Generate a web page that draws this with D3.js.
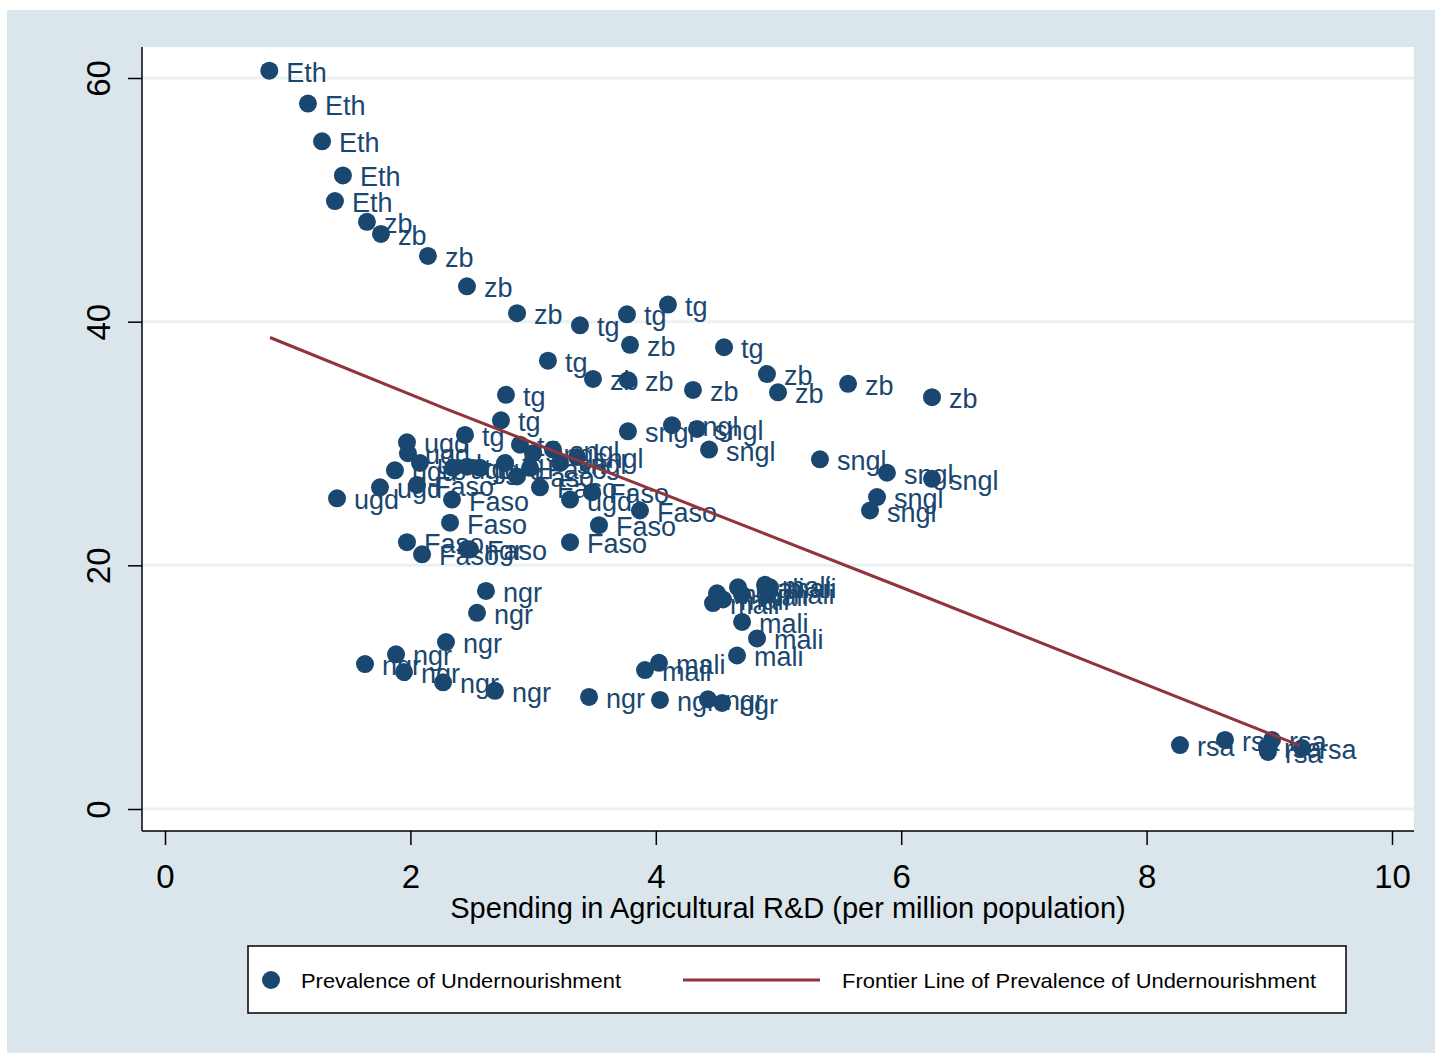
<!DOCTYPE html>
<html>
<head>
<meta charset="utf-8">
<script src="https://cdn.jsdelivr.net/npm/d3@7"></script>
<style>
  html, body { margin: 0; padding: 0; background: #ffffff; }
  svg { display: block; font-family: "Liberation Sans", Arial, sans-serif; }
</style>
</head>
<body>
<svg id="chart" width="1435" height="1053"></svg>
<script>
// Spending in agricultural R&D (per million population) vs. prevalence of undernourishment (%)
const Eth = [[0.85, 60.6], [1.165, 57.9], [1.28, 54.8], [1.45, 52.0], [1.385, 49.9]];
const zb = [[1.646, 48.2], [1.76, 47.2], [2.143, 45.4], [2.461, 42.9], [2.869, 40.7],
  [3.79, 38.1], [3.488, 35.3], [3.773, 35.2], [4.303, 34.4], [4.906, 35.7],
  [4.996, 34.2], [5.567, 34.9], [6.251, 33.8]];
const tg = [[3.382, 39.7], [3.765, 40.6], [4.099, 41.4], [4.556, 37.9], [3.121, 36.8],
  [2.779, 34.0], [2.738, 31.9], [2.445, 30.7], [2.461, 28.1], [2.567, 28.0],
  [2.771, 28.4], [2.893, 29.9]];
const sngl = [[3.773, 31.0], [4.132, 31.5], [4.336, 31.2], [4.434, 29.5], [5.338, 28.7],
  [5.884, 27.6], [6.251, 27.1], [5.803, 25.6], [5.746, 24.5], [3.162, 29.5],
  [3.358, 28.9], [2.999, 29.2], [3.219, 28.4]];
const Faso = [[3.48, 26.0], [3.871, 24.5], [3.537, 23.3], [3.301, 21.9], [2.339, 25.4],
  [2.323, 23.5], [1.972, 21.9], [2.095, 20.9], [2.486, 21.3], [2.054, 26.6],
  [2.869, 27.3], [2.975, 28.0], [3.056, 26.4]];
const ugd = [[1.402, 25.5], [1.752, 26.4], [1.972, 30.1], [1.98, 29.2], [1.874, 27.8],
  [2.078, 28.4], [3.301, 25.4], [2.347, 28.0]];
const ngr = [[2.616, 17.9], [2.543, 16.1], [2.29, 13.7], [1.883, 12.7], [1.63, 11.9],
  [1.948, 11.25], [2.266, 10.4], [2.689, 9.7], [3.456, 9.2], [4.034, 8.95],
  [4.425, 9.0], [4.54, 8.7], [2.461, 21.35]];
const mali = [[4.499, 17.7], [4.466, 16.9], [4.548, 17.2], [4.67, 18.2], [4.703, 17.6],
  [4.89, 18.4], [4.931, 18.2], [4.914, 17.7], [4.703, 15.35], [4.825, 14.0],
  [4.662, 12.6], [4.026, 12.0], [3.912, 11.4]];
const rsa = [[8.272, 5.25], [8.639, 5.67], [8.981, 5.09], [9.022, 5.67], [8.989, 4.68], [9.267, 5.0]];

const groups = [["Eth", Eth], ["zb", zb], ["tg", tg], ["sngl", sngl], ["Faso", Faso],
  ["ugd", ugd], ["ngr", ngr], ["mali", mali], ["rsa", rsa]];

// Frontier line of prevalence of undernourishment
const frontier = [[0.856, 38.7], [2.3, 32.8], [3.95, 26.3], [6.0, 18.2], [9.25, 5.2]];

const xTicks = [0, 2, 4, 6, 8, 10];
const yTicks = [0, 20, 40, 60];
const xTitle = "Spending in Agricultural R&D (per million population)";
const legendLabels = ["Prevalence of Undernourishment", "Frontier Line of Prevalence of Undernourishment"];

const navy = "#1a476f";
const maroon = "#90353b";

const svg = d3.select("#chart");
const plot = { left: 142, right: 1414, top: 47, bottom: 831 };

const x = d3.scaleLinear().domain([0, 10]).range([165, 1392]);
const y = d3.scaleLinear().domain([0, 60]).range([809, 78]);

// outer graph region
svg.append("rect").attr("x", 7).attr("y", 10).attr("width", 1428).attr("height", 1043)
  .attr("fill", "#dae6ec");
// plot region
svg.append("rect").attr("x", plot.left).attr("y", plot.top)
  .attr("width", plot.right - plot.left).attr("height", plot.bottom - plot.top)
  .attr("fill", "#ffffff");

// horizontal gridlines
svg.append("g").selectAll("line").data(yTicks).join("line")
  .attr("x1", plot.left).attr("x2", plot.right)
  .attr("y1", d => y(d)).attr("y2", d => y(d))
  .attr("stroke", "#eaf2f3").attr("stroke-width", 3);

// x axis
const gx = svg.append("g").attr("transform", `translate(0,${plot.bottom})`)
  .call(d3.axisBottom(x).tickValues(xTicks).tickSize(14).tickPadding(20).tickFormat(d3.format("d")));
gx.select(".domain").remove();
gx.selectAll(".tick line").attr("stroke", "#000").attr("stroke-width", 1.5);
gx.selectAll(".tick text").attr("font-size", 33).attr("fill", "#000")
  .attr("font-family", "Liberation Sans, Arial, sans-serif");
svg.append("line").attr("x1", plot.left).attr("x2", plot.right)
  .attr("y1", plot.bottom).attr("y2", plot.bottom).attr("stroke", "#000").attr("stroke-width", 1.5);

// y axis
const gy = svg.append("g").attr("transform", `translate(${plot.left},0)`)
  .call(d3.axisLeft(y).tickValues(yTicks).tickSize(14).tickFormat(d3.format("d")));
gy.select(".domain").remove();
gy.selectAll(".tick line").attr("stroke", "#000").attr("stroke-width", 1.5);
gy.selectAll(".tick text")
  .attr("font-size", 33).attr("fill", "#000")
  .attr("font-family", "Liberation Sans, Arial, sans-serif")
  .attr("text-anchor", "middle")
  .attr("x", null).attr("dy", null)
  .attr("transform", "translate(-32,0) rotate(-90)")
  .attr("y", 0);
svg.append("line").attr("x1", plot.left).attr("x2", plot.left)
  .attr("y1", plot.top).attr("y2", plot.bottom).attr("stroke", "#000").attr("stroke-width", 1.5);

// axis title
svg.append("text").attr("x", 788).attr("y", 918).attr("text-anchor", "middle")
  .attr("font-size", 29).attr("fill", "#000").text(xTitle);

// scatter markers and their labels
const points = groups.flatMap(([code, pts]) => pts.map(p => ({ code, sx: p[0], sy: p[1] })));
svg.append("g").selectAll("circle").data(points).join("circle")
  .attr("cx", d => x(d.sx)).attr("cy", d => y(d.sy)).attr("r", 9).attr("fill", navy);
svg.append("g").selectAll("text").data(points).join("text")
  .attr("x", d => x(d.sx) + 17).attr("y", d => y(d.sy) + 11)
  .attr("font-size", 27).attr("fill", navy).text(d => d.code);

// frontier line
svg.append("path").datum(frontier)
  .attr("d", d3.line().x(d => x(d[0])).y(d => y(d[1])))
  .attr("fill", "none").attr("stroke", maroon).attr("stroke-width", 3);

// legend
const lg = svg.append("g");
lg.append("rect").attr("x", 248).attr("y", 946).attr("width", 1098).attr("height", 67)
  .attr("fill", "#fff").attr("stroke", "#000").attr("stroke-width", 1.5);
lg.append("circle").attr("cx", 271).attr("cy", 980).attr("r", 9).attr("fill", navy);
lg.append("text").attr("x", 301).attr("y", 988).attr("font-size", 21).attr("fill", "#000")
  .attr("textLength", 320).attr("lengthAdjust", "spacingAndGlyphs").text(legendLabels[0]);
lg.append("line").attr("x1", 683).attr("x2", 820).attr("y1", 980).attr("y2", 980)
  .attr("stroke", maroon).attr("stroke-width", 3);
lg.append("text").attr("x", 842).attr("y", 988).attr("font-size", 21).attr("fill", "#000")
  .attr("textLength", 474).attr("lengthAdjust", "spacingAndGlyphs").text(legendLabels[1]);
</script>
</body>
</html>
